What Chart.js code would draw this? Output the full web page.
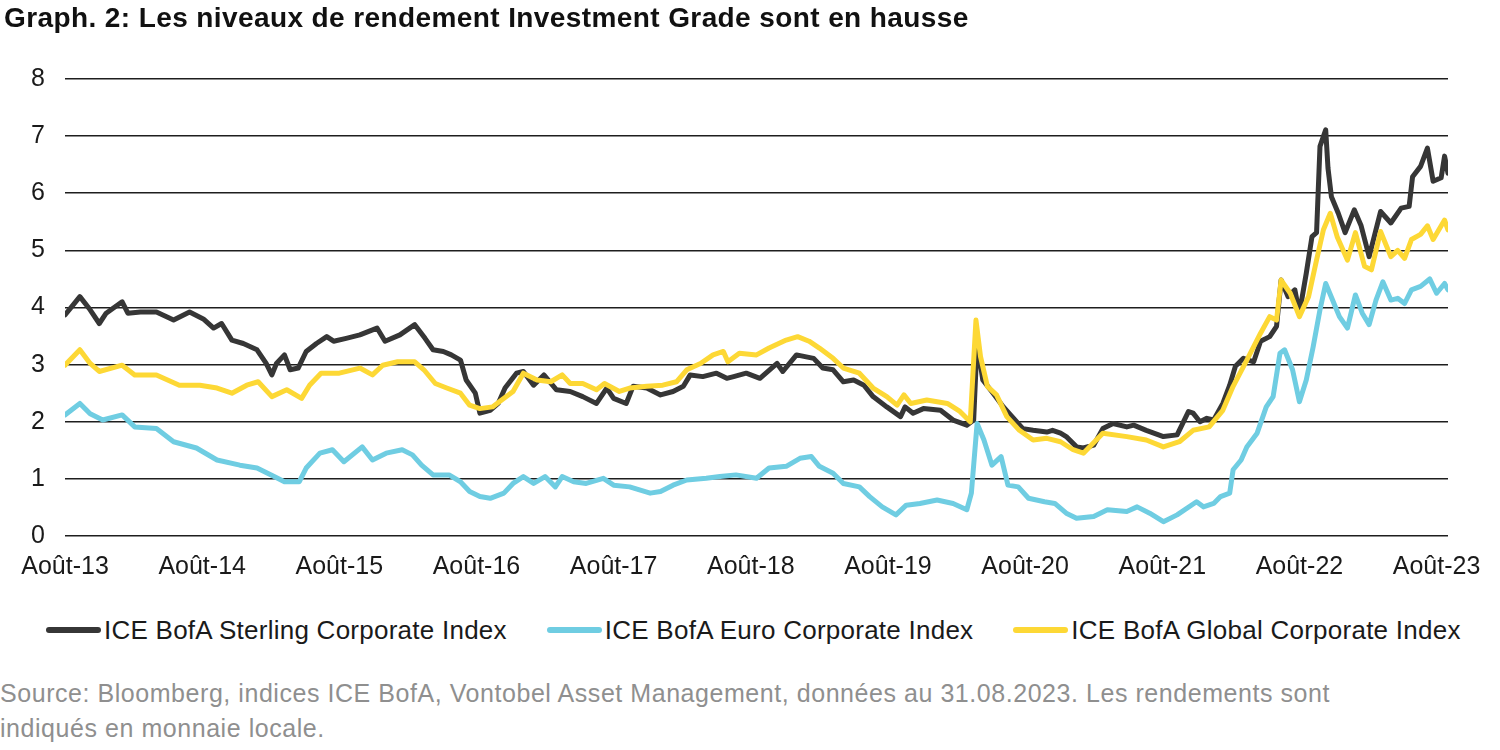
<!DOCTYPE html>
<html><head><meta charset="utf-8">
<script src="https://cdn.jsdelivr.net/npm/chart.js@4.4.0/dist/chart.umd.min.js"></script>
<style>
html,body{margin:0;padding:0;background:#fff;width:1500px;height:750px;overflow:hidden;font-family:Arial,"Liberation Sans",sans-serif;}
#title{position:absolute;left:4px;top:2px;font-size:28px;letter-spacing:0.4px;font-weight:bold;color:#111;white-space:nowrap;}
#wrap{position:absolute;left:0;top:0;width:1500px;height:600px;}
#legend{position:absolute;left:46px;top:612px;height:36px;display:flex;align-items:center;white-space:nowrap;}
#legend .item{display:flex;align-items:center;margin-right:40px;}
#legend .swatch{width:55px;height:6px;border-radius:3px;margin-right:3px;}
#legend .txt{font-size:26px;letter-spacing:0.25px;line-height:36px;color:#1a1a1a;}
#source{position:absolute;left:0;top:676px;font-size:25px;letter-spacing:0.55px;line-height:35px;color:#8f8f8f;white-space:nowrap;}
</style></head><body>
<div id="wrap"><canvas id="c"></canvas></div>
<div id="title">Graph. 2: Les niveaux de rendement Investment Grade sont en hausse</div>
<div id="legend"></div>
<div id="source">Source: Bloomberg, indices ICE BofA, Vontobel Asset Management, données au 31.08.2023. Les rendements sont<br>indiqués en monnaie locale.</div>
<script>
// Tick positions (months since Aug 2013) and labels
const tickMonths = [0,12,24,36,48,60,72,84,96,108,120];
const tickLabels = ['Août-13','Août-14','Août-15','Août-16','Août-17','Août-18','Août-19','Août-20','Août-21','Août-22','Août-23'];
const seriesNames = ['ICE BofA Sterling Corporate Index','ICE BofA Euro Corporate Index','ICE BofA Global Corporate Index'];
const seriesColors = ['#363636','#6fcde2','#fdd835'];

// ICE BofA Sterling Corporate Index (months since Aug 2013, yield %)
const sterlingMonths = [0,1.3,2.2,3.0,3.6,5.0,5.5,6.6,8.0,9.5,10.9,12.1,13.0,13.7,14.6,15.6,16.8,17.6,18.1,18.5,19.2,19.7,20.4,21.1,22.0,22.9,23.5,24.6,25.8,27.3,28.0,29.3,30.6,31.5,32.2,33.1,33.8,34.6,35.1,35.9,36.3,37.2,37.9,38.5,39.5,40.1,41.0,41.9,43.0,44.2,45.3,46.5,47.4,48.0,49.1,49.7,50.9,52.1,53.2,54.1,54.7,55.8,57.0,57.9,58.5,59.6,60.8,62.3,62.8,64.0,65.5,66.3,67.2,68.1,69.0,69.9,70.7,71.9,73.1,73.5,74.2,75.1,76.6,77.7,78.9,79.5,79.8,80.3,81.2,82.1,83.0,83.8,84.7,85.9,86.4,87.1,87.6,88.5,89.1,90.0,90.8,91.7,92.9,93.5,94.6,96.1,97.3,98.3,98.7,99.3,99.9,100.5,101.3,101.9,102.4,103.1,104.0,104.6,105.4,106.0,106.4,107.0,107.6,108.0,108.6,109.1,109.5,109.8,110.3,110.5,110.8,111.4,112.0,112.8,113.4,114.1,115.1,116.0,116.9,117.6,117.9,118.6,119.2,119.7,120.4,120.7,121.0];
const sterlingValues = [3.87,4.19,3.96,3.72,3.90,4.10,3.90,3.92,3.92,3.78,3.92,3.80,3.64,3.72,3.43,3.37,3.26,3.02,2.82,3.02,3.17,2.91,2.94,3.23,3.37,3.49,3.41,3.46,3.52,3.64,3.41,3.52,3.70,3.46,3.26,3.23,3.17,3.08,2.73,2.50,2.15,2.20,2.32,2.59,2.85,2.88,2.64,2.82,2.56,2.53,2.44,2.32,2.59,2.41,2.32,2.62,2.59,2.47,2.53,2.62,2.82,2.79,2.85,2.76,2.79,2.85,2.76,3.02,2.88,3.17,3.11,2.94,2.91,2.70,2.73,2.64,2.44,2.26,2.09,2.26,2.15,2.23,2.20,2.03,1.94,2.03,3.40,2.73,2.50,2.26,2.06,1.88,1.85,1.82,1.85,1.80,1.74,1.56,1.54,1.59,1.88,1.97,1.91,1.94,1.85,1.74,1.77,2.18,2.15,2.00,2.06,2.03,2.32,2.64,2.97,3.11,3.05,3.41,3.49,3.67,4.48,4.19,4.31,3.90,4.60,5.24,5.31,6.82,7.11,6.44,5.94,5.65,5.31,5.71,5.43,4.89,5.68,5.48,5.74,5.77,6.29,6.47,6.79,6.21,6.27,6.65,6.35];

// ICE BofA Euro Corporate Index
const euroMonths = [0,1.3,2.2,3.3,5.0,6.1,8.0,9.5,11.5,13.3,15.3,16.8,18.3,19.2,20.5,21.1,22.3,23.4,24.4,26.0,26.9,28.1,29.5,30.4,31.2,32.2,33.6,34.6,35.4,36.3,37.2,38.4,39.2,40.1,41.0,42.0,42.9,43.5,44.5,45.6,47.1,48.0,49.4,51.2,52.1,53.2,54.4,56.1,57.3,58.7,60.5,61.6,63.1,64.3,65.3,66.0,67.2,68.1,69.5,70.4,71.5,72.7,73.6,74.8,76.3,77.7,78.9,79.3,79.8,80.4,81.1,81.9,82.5,83.4,84.3,85.7,86.6,87.6,88.5,90.0,91.2,92.9,93.8,94.9,96.1,97.3,99.0,99.6,100.5,101.1,101.9,102.2,102.9,103.4,104.3,105.1,105.7,106.3,106.7,107.4,108.0,108.6,109.2,109.8,110.3,110.9,111.5,112.2,112.9,113.5,114.1,114.7,115.3,116.0,116.6,117.2,117.8,118.6,119.4,120.0,120.7,121.0];
const euroValues = [2.12,2.32,2.14,2.03,2.12,1.91,1.88,1.65,1.54,1.33,1.24,1.19,1.04,0.95,0.95,1.19,1.45,1.51,1.30,1.56,1.33,1.45,1.51,1.42,1.24,1.07,1.07,0.95,0.78,0.69,0.66,0.75,0.92,1.04,0.92,1.04,0.86,1.04,0.95,0.92,1.01,0.89,0.86,0.75,0.78,0.89,0.98,1.01,1.04,1.07,1.01,1.19,1.22,1.36,1.39,1.22,1.10,0.92,0.86,0.69,0.51,0.37,0.54,0.57,0.63,0.57,0.46,0.75,1.97,1.68,1.24,1.39,0.89,0.86,0.66,0.60,0.57,0.40,0.31,0.34,0.46,0.43,0.51,0.40,0.25,0.37,0.60,0.51,0.57,0.69,0.75,1.16,1.33,1.56,1.80,2.26,2.44,3.20,3.26,2.91,2.35,2.73,3.31,3.96,4.42,4.13,3.84,3.64,4.22,3.90,3.70,4.13,4.45,4.13,4.16,4.07,4.31,4.37,4.50,4.25,4.42,4.31];

// ICE BofA Global Corporate Index
const globalMonths = [0,1.3,2.2,3.0,5.0,6.1,8.0,10.0,11.8,13.3,14.6,15.9,16.9,18.1,19.4,20.7,21.4,22.4,24.0,25.8,26.9,27.8,29.1,30.6,31.4,32.4,33.4,34.6,35.4,36.3,37.4,38.0,39.2,40.1,41.3,42.5,43.5,44.2,45.3,46.5,47.2,48.5,49.4,50.9,52.3,53.5,54.4,55.6,56.7,57.6,58.0,59.0,60.5,61.6,63.1,64.1,65.1,66.0,67.2,68.1,69.5,70.7,71.9,72.8,73.4,74.0,75.4,77.2,78.3,79.2,79.7,80.1,80.7,81.5,82.4,83.5,84.7,85.9,87.1,88.2,89.1,90.8,92.9,94.6,96.1,97.5,98.7,100.1,101.3,102.2,103.4,104.6,105.4,106.0,106.4,107.2,108.0,108.8,109.5,110.1,110.7,111.3,112.2,112.9,113.7,114.3,115.1,116.0,116.6,117.2,117.8,118.6,119.2,119.7,120.7,121.0];
const globalValues = [2.99,3.26,3.02,2.88,2.99,2.82,2.82,2.64,2.64,2.59,2.50,2.64,2.70,2.44,2.56,2.41,2.64,2.85,2.85,2.94,2.82,2.99,3.05,3.05,2.91,2.67,2.59,2.50,2.29,2.23,2.26,2.35,2.53,2.85,2.73,2.70,2.82,2.67,2.67,2.56,2.67,2.53,2.59,2.62,2.64,2.70,2.91,3.02,3.17,3.23,3.05,3.20,3.17,3.29,3.43,3.49,3.41,3.29,3.11,2.94,2.85,2.59,2.44,2.29,2.47,2.32,2.38,2.32,2.18,2.00,3.78,3.14,2.62,2.47,2.09,1.85,1.68,1.71,1.65,1.51,1.45,1.80,1.74,1.68,1.56,1.65,1.85,1.91,2.20,2.62,3.08,3.55,3.84,3.78,4.48,4.25,3.84,4.19,4.83,5.36,5.65,5.24,4.83,5.31,4.72,4.66,5.33,4.89,5.00,4.86,5.19,5.28,5.43,5.19,5.53,5.36];

const toXY = (xs, ys) => xs.map((x, i) => ({x: x, y: ys[i]}));
const FONT = 'Arial, "Liberation Sans", sans-serif';

const chart = new Chart(document.getElementById('c'), {
  type: 'line',
  data: {
    datasets: [
      {label: seriesNames[0], data: toXY(sterlingMonths, sterlingValues), borderColor: seriesColors[0], backgroundColor: seriesColors[0], order: 2},
      {label: seriesNames[1], data: toXY(euroMonths, euroValues), borderColor: seriesColors[1], backgroundColor: seriesColors[1], order: 1},
      {label: seriesNames[2], data: toXY(globalMonths, globalValues), borderColor: seriesColors[2], backgroundColor: seriesColors[2], order: 0}
    ]
  },
  options: {
    responsive: true,
    maintainAspectRatio: false,
    animation: false,
    elements: {
      point: {radius: 0, hoverRadius: 0},
      line: {borderWidth: 5, tension: 0, borderJoinStyle: 'round', borderCapStyle: 'round'}
    },
    layout: {padding: {top: 79, right: 52, left: 0, bottom: 9}},
    plugins: {
      tooltip: {enabled: false},
      legend: {display: false}
    },
    scales: {
      x: {
        type: 'linear',
        min: 0,
        max: 121,
        grid: {display: false, drawTicks: false},
        border: {display: false},
        afterBuildTicks: (axis) => { axis.ticks = tickMonths.map(v => ({value: v})); },
        afterFit: (axis) => { axis.height = 55; },
        ticks: {
          font: {family: FONT, size: 25},
          color: '#1a1a1a',
          padding: 16,
          maxRotation: 0,
          autoSkip: false,
          callback: (v) => { const i = tickMonths.indexOf(v); return i >= 0 ? tickLabels[i] : ''; }
        }
      },
      y: {
        min: 0,
        max: 8,
        afterFit: (axis) => { axis.width = 65; },
        grid: {color: '#1e1e1e', lineWidth: 1.6, drawTicks: false},
        border: {display: false},
        ticks: {
          stepSize: 1,
          font: {family: FONT, size: 25},
          color: '#1a1a1a',
          padding: 20
        }
      }
    }
  }
});

// HTML legend built from the chart's datasets
const legendEl = document.getElementById('legend');
chart.data.datasets.forEach((ds) => {
  const item = document.createElement('div');
  item.className = 'item';
  const sw = document.createElement('span');
  sw.className = 'swatch';
  sw.style.background = ds.borderColor;
  const tx = document.createElement('span');
  tx.className = 'txt';
  tx.textContent = ds.label;
  item.appendChild(sw);
  item.appendChild(tx);
  legendEl.appendChild(item);
});
</script>
</body></html>
